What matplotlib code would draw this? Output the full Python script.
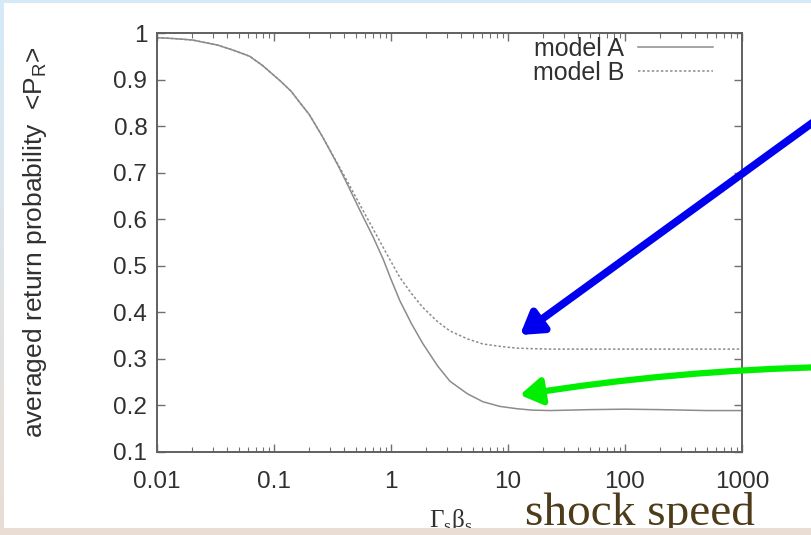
import matplotlib
matplotlib.use("Agg")
import matplotlib.pyplot as plt
import numpy as np
from matplotlib.patches import Rectangle

plt.rcParams['font.family'] = ['Liberation Sans', 'DejaVu Sans']

# values
speed = [0.01, 0.014, 0.02, 0.033, 0.045, 0.062, 0.08, 0.112, 0.14, 0.167, 0.2,
         0.26, 0.35, 0.42, 0.54, 0.7, 0.855, 1.0, 1.19, 1.5, 1.88, 2.5, 3.19,
         4.5, 6.1, 8.5, 11.9, 16, 22.9, 50, 100, 200, 500, 1000]
model_a = [0.99, 0.988, 0.985, 0.974, 0.963, 0.95, 0.93, 0.898, 0.875, 0.85, 0.825,
           0.777, 0.717, 0.677, 0.62, 0.563, 0.515, 0.471, 0.425, 0.375, 0.332, 0.285, 0.252,
           0.225, 0.208, 0.198, 0.193, 0.19, 0.189, 0.191, 0.192, 0.191, 0.189, 0.189]
model_b = [0.99, 0.988, 0.985, 0.974, 0.963, 0.95, 0.93, 0.898, 0.875, 0.85, 0.825,
           0.777, 0.719, 0.683, 0.632, 0.58, 0.54, 0.509, 0.475, 0.44, 0.41, 0.38, 0.36,
           0.343, 0.332, 0.327, 0.323, 0.322, 0.321, 0.321, 0.321, 0.321, 0.321, 0.321]
labels = ["model A", "model B"]
xticks = [0.01, 0.1, 1, 10, 100, 1000]
xticklabels = ["0.01", "0.1", "1", "10", "100", "1000"]
yticks = [0.1, 0.2, 0.3, 0.4, 0.5, 0.6, 0.7, 0.8, 0.9, 1]
yticklabels = ["0.1", "0.2", "0.3", "0.4", "0.5", "0.6", "0.7", "0.8", "0.9", "1"]

W, H = 812, 535
fig = plt.figure(figsize=(W / 100, H / 100), dpi=100)

# slide background: blue-to-beige gradient, white panel on top
bg = fig.add_axes([0, 0, 1, 1], zorder=-5)
grad = np.linspace(0, 1, 256)[:, None]
top_c = np.array([0.835, 0.918, 0.976])
bot_c = np.array([0.914, 0.867, 0.831])
img = top_c[None, None, :] * (1 - grad[:, :, None]) + bot_c[None, None, :] * grad[:, :, None]
bg.imshow(img, aspect='auto', extent=[0, W, 0, H], origin='upper')
bg.add_patch(Rectangle((4, H - 528), W, 525, color='white', lw=0))
bg.set_xlim(0, W)
bg.set_ylim(0, H)
bg.axis('off')

ax = fig.add_axes([157 / W, 1 - 452 / H, 585 / W, 419 / H])
ax.plot(speed, model_a, color='#8c8c8c', lw=1.1, label=labels[0])
ax.plot(speed, model_b, color='#8c8c8c', lw=1.1, ls=(0, (1.6, 1.4)), label=labels[1])
ax.set_xscale('log')
ax.set_xlim(0.01, 1000)
ax.set_ylim(0.1, 1)
ax.set_xticks(xticks)
ax.set_xticklabels(xticklabels)
ax.set_yticks(yticks)
ax.set_yticklabels(yticklabels)
ax.tick_params(which='both', direction='in', top=True, right=True, colors='#707070',
               labelcolor='#303030', labelsize=17.5)
ax.tick_params(which='major', length=6, width=1, pad=7)
ax.tick_params(axis='x', which='major', pad=14)
ax.tick_params(which='minor', length=3.5, width=0.8)
for s in ax.spines.values():
    s.set_color('#606060')
    s.set_linewidth(1.4)

ax.set_ylabel('averaged return probability  <P$_\\mathregular{R}$>', fontsize=19, color='#303030')
ax.yaxis.set_label_coords(-0.185, 0.5)

leg = ax.legend(loc='upper right', bbox_to_anchor=(0.95, 0.99), frameon=False,
                markerfirst=False, handlelength=3.0, handletextpad=0.55,
                labelspacing=0.0, borderpad=0, borderaxespad=0, fontsize=18)
for t in leg.get_texts():
    t.set_color('#303030')

fig.text(451 / W, 1 - 520 / H, 'Γ$_\\mathregular{s}$β$_\\mathregular{s}$', fontsize=18,
         family='Liberation Serif', color='#303030', ha='center', va='center')
fig.text(525 / W, 1 - 525 / H, 'shock speed', family='Liberation Serif', fontsize=34,
         color='#4d3b1a', ha='left', va='baseline')

# beige strip at the bottom of the slide
fig.patches.append(Rectangle((0, 0), 1, 1 - 528 / H, transform=fig.transFigure,
                             color=bot_c, lw=0, zorder=20))

# arrows pointing at the plateaus
ann = fig.add_axes([0, 0, 1, 1], zorder=5)
ann.set_xlim(0, W)
ann.set_ylim(H, 0)
ann.axis('off')
ann.annotate('', xy=(520, 335), xytext=(830, 110),
             arrowprops=dict(arrowstyle='-|>,head_length=0.8,head_width=0.5',
                             color='#0000ee', lw=5.5, mutation_scale=16, shrinkA=0, shrinkB=0))
ann.annotate('', xy=(520, 395), xytext=(830, 367),
             arrowprops=dict(arrowstyle='-|>,head_length=0.8,head_width=0.5',
                             color='#00ee00', lw=4.5, mutation_scale=16, shrinkA=0, shrinkB=0,
                             connectionstyle='arc3,rad=0.035'))

fig.savefig('out.png', dpi=100)
